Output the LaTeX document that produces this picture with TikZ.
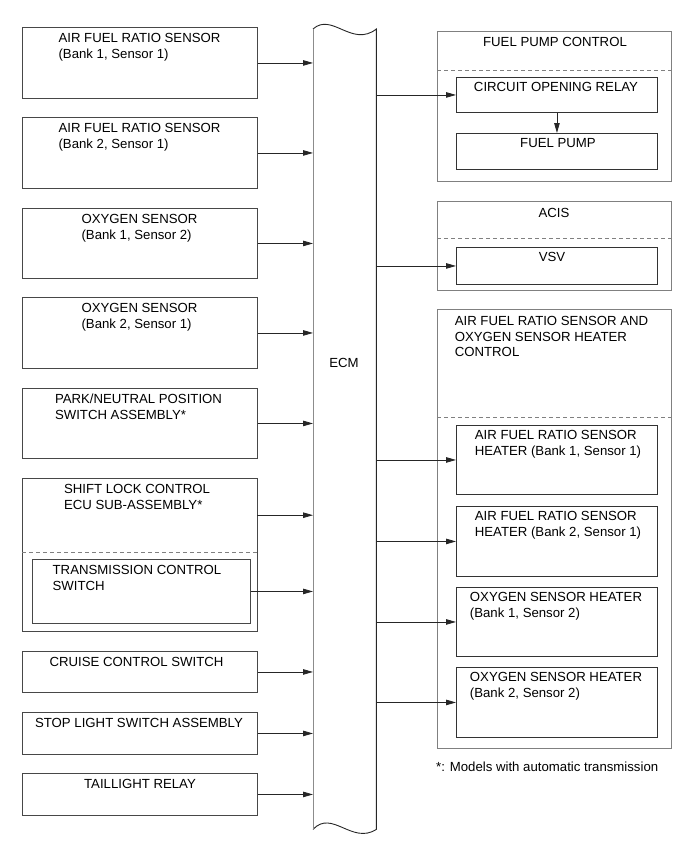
\documentclass[tikz,border=0pt]{standalone}
\usepackage{fontspec}
\setmainfont{Liberation Sans}
\usetikzlibrary{arrows.meta}
\begin{document}
\begin{tikzpicture}[x=1pt,y=-1pt,
  box/.style={draw=black!72, line width=0.9pt, rectangle, inner sep=0pt, anchor=north west},
  inbox/.style={draw=black!80, line width=0.9pt, rectangle, inner sep=0pt, anchor=north west, minimum width=201pt},
  grp/.style={draw=black!50, line width=0.9pt, rectangle, inner sep=0pt, anchor=north west, minimum width=234pt},
  lbox/.style={box, minimum width=235pt},
  area/.style={rectangle, inner sep=0pt, anchor=north west},
  txt/.style={anchor=north, align=left, inner sep=0pt, font=\fontsize{13.2}{15.4}\selectfont},
  sep/.style={draw=black!50, line width=0.8pt, dash pattern=on 4pt off 3pt},
  arr/.style={draw=black!85, line width=0.8pt, -{Triangle[length=10pt,width=5.5pt]}},
]
\useasboundingbox (0,0) rectangle (691,854);

% ---------------- ECM ----------------
\node[area, minimum width=63pt, minimum height=800pt] (ecm) at (313,29) {};
\draw[black!85, line width=0.9pt] (ecm.north west) .. controls (332,12) and (352,48) .. (ecm.north east)
  -- (ecm.south east) .. controls (352,845) and (332,809) .. (ecm.south west);
\draw[black!45, line width=0.9pt] (ecm.north west) -- (ecm.south west);
\node[anchor=center, inner sep=0pt, font=\fontsize{13.2}{15.4}\selectfont] (ecml) at (344,363) {ECM};

% ---------------- Left boxes ----------------
\node[lbox, minimum height=71pt] (b1) at (22,27) {};
\node[txt] (t1) at (139.5,31.9) {\strut AIR FUEL RATIO SENSOR\\(Bank 1, Sensor 1)};
\node[lbox, minimum height=71pt] (b2) at (22,117) {};
\node[txt] (t2) at (139.5,121.9) {\strut AIR FUEL RATIO SENSOR\\(Bank 2, Sensor 1)};
\node[lbox, minimum height=70pt] (b3) at (22,208) {};
\node[txt] (t3) at (139.5,212.9) {\strut OXYGEN SENSOR\\(Bank 1, Sensor 2)};
\node[lbox, minimum height=71pt] (b4) at (22,297) {};
\node[txt] (t4) at (139.5,301.9) {\strut OXYGEN SENSOR\\(Bank 2, Sensor 1)};
\node[lbox, minimum height=70pt] (b5) at (22,388) {};
\node[txt] (t5) at (138.5,392.9) {\strut PARK/NEUTRAL POSITION\\SWITCH ASSEMBLY*};
\node[lbox, minimum height=153pt] (b6) at (22,478) {};
\node[area, minimum width=235pt, minimum height=74pt] (b6u) at (22,478) {};
\node[txt] (t6) at (137,482.9) {\strut SHIFT LOCK CONTROL\\ECU SUB-ASSEMBLY*};
\draw[sep] (22,552) -- (257,552);
\node[box, minimum width=218pt, minimum height=64pt] (b6i) at (32,559) {};
\node[txt] (t6i) at (137,563.9) {\strut TRANSMISSION CONTROL\\SWITCH};
\node[lbox, minimum height=41pt] (b7) at (22,651) {};
\node[txt] (t7) at (136.5,655.9) {\strut CRUISE CONTROL SWITCH};
\node[lbox, minimum height=42pt] (b8) at (22,712) {};
\node[txt] (t8) at (139,716.9) {\strut STOP LIGHT SWITCH ASSEMBLY};
\node[lbox, minimum height=42pt] (b9) at (22,773) {};
\node[txt] (t9) at (140,777.9) {\strut TAILLIGHT RELAY};

\foreach \n in {b1,b2,b3,b4,b5,b6u,b6i,b7,b8,b9}
  \draw[arr] (\n.east) -- (\n.east -| ecm.west);

% ---------------- Right: fuel pump control ----------------
\node[grp, minimum height=150pt] (fpc) at (437,31) {};
\node[txt] (tfpc) at (555,35.9) {\strut FUEL PUMP CONTROL};
\draw[sep] (437,70) -- (671,70);
\node[inbox, minimum height=35pt] (cor) at (456,77) {};
\node[txt] (tcor) at (556,80.9) {\strut CIRCUIT OPENING RELAY};
\node[inbox, minimum height=36pt] (fp) at (456,133) {};
\node[txt] (tfp) at (558,136.9) {\strut FUEL PUMP};
\draw[arr] (cor.west -| ecm.east) -- (cor.west);
\draw[arr] (cor.south) -- (fp.north);

% ---------------- ACIS ----------------
\node[grp, minimum height=89pt] (acis) at (437,201) {};
\node[txt] (tacis) at (554,206.9) {\strut ACIS};
\draw[sep] (437,238) -- (671,238);
\node[inbox, minimum height=37pt] (vsv) at (456,247) {};
\node[txt] (tvsv) at (552,250.9) {\strut VSV};
\draw[arr] (vsv.west -| ecm.east) -- (vsv.west);

% ---------------- Heater control ----------------
\node[grp, minimum height=439pt] (afc) at (437,309) {};
\node[txt] (tafc) at (551.5,314.9) {\strut AIR FUEL RATIO SENSOR AND\\OXYGEN SENSOR HEATER\\CONTROL};
\draw[sep] (437,417) -- (671,417);
\node[inbox, minimum height=69pt] (h1) at (456,425) {};
\node[txt] (th1) at (558,428.9) {\strut AIR FUEL RATIO SENSOR\\HEATER (Bank 1, Sensor 1)};
\node[inbox, minimum height=70pt] (h2) at (456,506) {};
\node[txt] (th2) at (558,509.9) {\strut AIR FUEL RATIO SENSOR\\HEATER (Bank 2, Sensor 1)};
\node[inbox, minimum height=69pt] (h3) at (456,587) {};
\node[txt] (th3) at (556,590.9) {\strut OXYGEN SENSOR HEATER\\(Bank 1, Sensor 2)};
\node[inbox, minimum height=70pt] (h4) at (456,667) {};
\node[txt] (th4) at (556,670.9) {\strut OXYGEN SENSOR HEATER\\(Bank 2, Sensor 2)};
\foreach \n in {h1,h2,h3,h4}
  \draw[arr] (\n.west -| ecm.east) -- (\n.west);

% ---------------- Footnote ----------------
\node[txt, anchor=north west] (note) at (436,761) {\strut *: Models with automatic transmission};
\end{tikzpicture}
\end{document}
